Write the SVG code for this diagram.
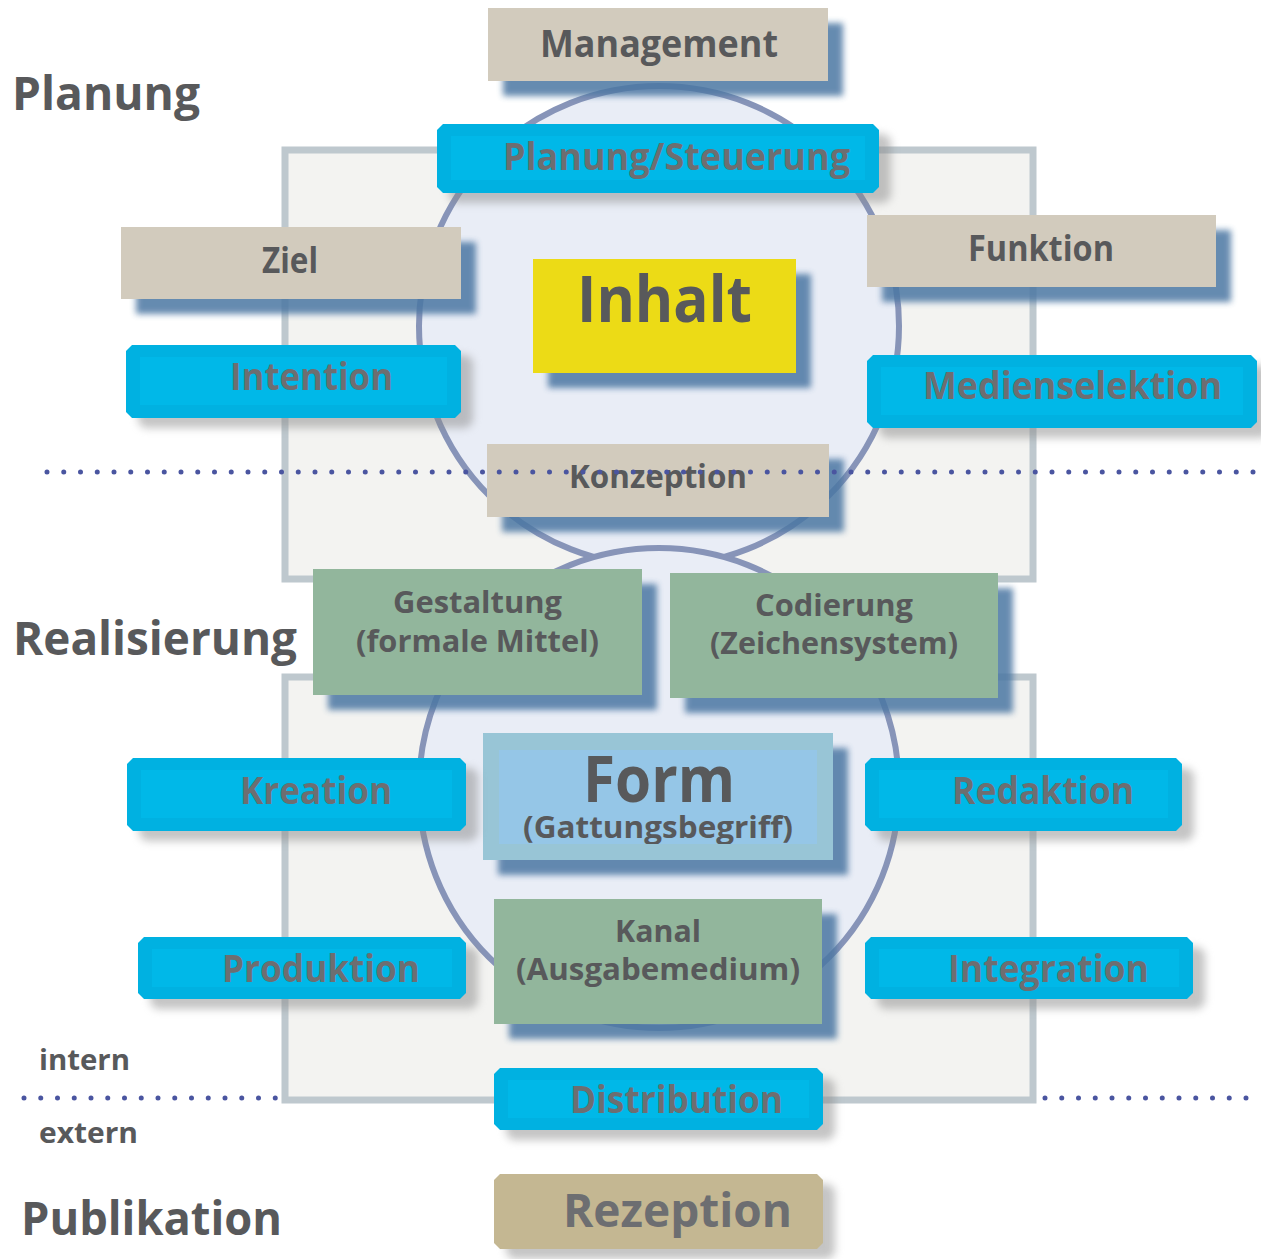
<svg xmlns="http://www.w3.org/2000/svg" width="1261" height="1259" viewBox="0 0 1261 1259">
<style>
text{font-family:"Open Sans","DejaVu Sans",sans-serif;font-weight:700;fill:#58595b}
.bt{fill:#6d6e71}
.bg{fill:#f3f3f1;stroke:#bec8ce;stroke-width:7}
.circ{fill:#e9edf6;stroke:#8794b8;stroke-width:6}
.tan{fill:#d2cbbd}
.grn{fill:#92b69c}
.cyan{fill:#00b1e1}
.cyin{fill:#00b8e8}
.bsh{fill:#4c77a3;opacity:.85}
.gsh{fill:#8a8a8a;opacity:.5}
.dot{stroke:#4a55a0;stroke-width:5;stroke-linecap:round;stroke-dasharray:0 16.75;fill:none}
</style>
<defs>
<filter id="blur" x="-10%" y="-20%" width="120%" height="140%"><feGaussianBlur stdDeviation="3"/></filter>
<filter id="blur2" x="-10%" y="-30%" width="120%" height="160%"><feGaussianBlur stdDeviation="4"/></filter>
<clipPath id="formclip"><rect x="499" y="750" width="318" height="94"/></clipPath>
</defs>
<g id="background">
<rect class="bg" x="285" y="150" width="748" height="429"/>
<rect class="bg" x="285" y="677" width="748" height="423"/>
<circle class="circ" cx="659" cy="326" r="240"/>
<circle class="circ" cx="659" cy="788" r="240"/>
</g>
<g id="labels">
<text x="12" y="110" font-size="47" textLength="188" lengthAdjust="spacingAndGlyphs">Planung</text>
<text x="13" y="655" font-size="47" textLength="284" lengthAdjust="spacingAndGlyphs">Realisierung</text>
<text x="21" y="1235" font-size="47" textLength="261" lengthAdjust="spacingAndGlyphs">Publikation</text>
<text x="39" y="1070" font-size="29" textLength="91" lengthAdjust="spacingAndGlyphs">intern</text>
<text x="39" y="1143" font-size="29" textLength="99" lengthAdjust="spacingAndGlyphs">extern</text>
</g>
<g id="connectors">
<line class="dot" x1="24" y1="1098" x2="276" y2="1098"/>
<line class="dot" x1="1045" y1="1098" x2="1248" y2="1098"/>
</g>
<g id="management">
<rect class="bsh" x="503" y="23" width="340" height="73" filter="url(#blur)"/>
<rect class="tan" x="488" y="8" width="340" height="73"/>
<text x="540" y="57" font-size="38" textLength="238" lengthAdjust="spacingAndGlyphs">Management</text>
</g>
<g id="planung-steuerung">
<path class="gsh" filter="url(#blur2)" transform="translate(12,10)" d="M443,124 H873 L879,130 V187 L873,193 H443 L437,187 V130 Z"/>
<path class="cyan" d="M443,124 H873 L879,130 V187 L873,193 H443 L437,187 V130 Z"/>
<rect class="cyin" x="451" y="136" width="414" height="44"/>
<text class="bt" x="503" y="170" font-size="38" textLength="347" lengthAdjust="spacingAndGlyphs">Planung/Steuerung</text>
</g>
<g id="ziel">
<rect class="bsh" x="136" y="242" width="340" height="72" filter="url(#blur)"/>
<rect class="tan" x="121" y="227" width="340" height="72"/>
<text x="262" y="273" font-size="36" textLength="56" lengthAdjust="spacingAndGlyphs">Ziel</text>
</g>
<g id="funktion">
<rect class="bsh" x="882" y="230" width="349" height="72" filter="url(#blur)"/>
<rect class="tan" x="867" y="215" width="349" height="72"/>
<text x="968" y="261" font-size="36" textLength="146" lengthAdjust="spacingAndGlyphs">Funktion</text>
</g>
<g id="inhalt">
<rect class="bsh" x="548" y="274" width="263" height="114" filter="url(#blur)"/>
<rect fill="#ecdb16" x="533" y="259" width="263" height="114"/>
<text x="577" y="322" font-size="64" textLength="175" lengthAdjust="spacingAndGlyphs">Inhalt</text>
</g>
<g id="intention">
<path class="gsh" filter="url(#blur2)" transform="translate(12,10)" d="M132,345 H455 L461,351 V412 L455,418 H132 L126,412 V351 Z"/>
<path class="cyan" d="M132,345 H455 L461,351 V412 L455,418 H132 L126,412 V351 Z"/>
<rect class="cyin" x="140" y="357" width="307" height="48"/>
<text class="bt" x="230" y="390" font-size="37" textLength="163" lengthAdjust="spacingAndGlyphs">Intention</text>
</g>
<g id="medienselektion">
<path class="gsh" filter="url(#blur2)" transform="translate(12,10)" d="M873,355 H1251 L1257,361 V422 L1251,428 H873 L867,422 V361 Z"/>
<path class="cyan" d="M873,355 H1251 L1257,361 V422 L1251,428 H873 L867,422 V361 Z"/>
<rect class="cyin" x="881" y="367" width="362" height="48"/>
<text class="bt" x="923" y="399" font-size="37" textLength="299" lengthAdjust="spacingAndGlyphs">Medienselektion</text>
</g>
<g id="konzeption">
<rect class="bsh" x="502" y="459" width="342" height="73" filter="url(#blur)"/>
<rect class="tan" x="487" y="444" width="342" height="73"/>
<text x="569" y="488" font-size="32" textLength="178" lengthAdjust="spacingAndGlyphs">Konzeption</text>
</g>
<g id="gestaltung">
<rect class="bsh" x="328" y="584" width="329" height="126" filter="url(#blur)"/>
<rect class="grn" x="313" y="569" width="329" height="126"/>
<text x="393" y="613" font-size="30" textLength="169" lengthAdjust="spacingAndGlyphs">Gestaltung</text>
<text x="356" y="652" font-size="30" textLength="243" lengthAdjust="spacingAndGlyphs">(formale Mittel)</text>
</g>
<g id="codierung">
<rect class="bsh" x="685" y="588" width="328" height="125" filter="url(#blur)"/>
<rect class="grn" x="670" y="573" width="328" height="125"/>
<text x="755" y="616" font-size="30" textLength="158" lengthAdjust="spacingAndGlyphs">Codierung</text>
<text x="710" y="654" font-size="30" textLength="248" lengthAdjust="spacingAndGlyphs">(Zeichensystem)</text>
</g>
<g id="form">
<rect class="bsh" x="498" y="748" width="350" height="127" filter="url(#blur)"/>
<rect fill="#98c5d6" x="483" y="733" width="350" height="127"/>
<rect fill="#95c6e7" x="499" y="750" width="318" height="94"/>
<text x="583" y="802" font-size="64" textLength="152" lengthAdjust="spacingAndGlyphs">Form</text>
<text x="523" y="838" font-size="30" textLength="270" lengthAdjust="spacingAndGlyphs" clip-path="url(#formclip)">(Gattungsbegriff)</text>
</g>
<g id="kreation">
<path class="gsh" filter="url(#blur2)" transform="translate(12,10)" d="M133,758 H460 L466,764 V825 L460,831 H133 L127,825 V764 Z"/>
<path class="cyan" d="M133,758 H460 L466,764 V825 L460,831 H133 L127,825 V764 Z"/>
<rect class="cyin" x="141" y="770" width="311" height="48"/>
<text class="bt" x="240" y="804" font-size="37" textLength="152" lengthAdjust="spacingAndGlyphs">Kreation</text>
</g>
<g id="redaktion">
<path class="gsh" filter="url(#blur2)" transform="translate(12,10)" d="M871,758 H1176 L1182,764 V825 L1176,831 H871 L865,825 V764 Z"/>
<path class="cyan" d="M871,758 H1176 L1182,764 V825 L1176,831 H871 L865,825 V764 Z"/>
<rect class="cyin" x="879" y="770" width="289" height="48"/>
<text class="bt" x="952" y="804" font-size="37" textLength="182" lengthAdjust="spacingAndGlyphs">Redaktion</text>
</g>
<g id="produktion">
<path class="gsh" filter="url(#blur2)" transform="translate(12,10)" d="M144,937 H460 L466,943 V993 L460,999 H144 L138,993 V943 Z"/>
<path class="cyan" d="M144,937 H460 L466,943 V993 L460,999 H144 L138,993 V943 Z"/>
<rect class="cyin" x="152" y="949" width="300" height="38"/>
<text class="bt" x="222" y="982" font-size="37" textLength="198" lengthAdjust="spacingAndGlyphs">Produktion</text>
</g>
<g id="integration">
<path class="gsh" filter="url(#blur2)" transform="translate(12,10)" d="M871,937 H1187 L1193,943 V993 L1187,999 H871 L865,993 V943 Z"/>
<path class="cyan" d="M871,937 H1187 L1193,943 V993 L1187,999 H871 L865,993 V943 Z"/>
<rect class="cyin" x="879" y="949" width="300" height="38"/>
<text class="bt" x="948" y="982" font-size="37" textLength="201" lengthAdjust="spacingAndGlyphs">Integration</text>
</g>
<g id="kanal">
<rect class="bsh" x="509" y="914" width="328" height="125" filter="url(#blur)"/>
<rect class="grn" x="494" y="899" width="328" height="125"/>
<text x="615" y="942" font-size="30" textLength="86" lengthAdjust="spacingAndGlyphs">Kanal</text>
<text x="516" y="980" font-size="30" textLength="284" lengthAdjust="spacingAndGlyphs">(Ausgabemedium)</text>
</g>
<g id="distribution">
<path class="gsh" filter="url(#blur2)" transform="translate(12,10)" d="M500,1068 H817 L823,1074 V1124 L817,1130 H500 L494,1124 V1074 Z"/>
<path class="cyan" d="M500,1068 H817 L823,1074 V1124 L817,1130 H500 L494,1124 V1074 Z"/>
<rect class="cyin" x="508" y="1080" width="301" height="38"/>
<text class="bt" x="570" y="1113" font-size="38" textLength="213" lengthAdjust="spacingAndGlyphs">Distribution</text>
</g>
<g id="rezeption">
<path class="gsh" filter="url(#blur2)" transform="translate(12,10)" d="M500,1174 H817 L823,1180 V1243 L817,1249 H500 L494,1243 V1180 Z"/>
<path fill="#c4b792" d="M500,1174 H817 L823,1180 V1243 L817,1249 H500 L494,1243 V1180 Z"/>
<text class="bt" x="563" y="1227" font-size="46" textLength="229" lengthAdjust="spacingAndGlyphs">Rezeption</text>
</g>
<g id="connectors-top">
<line class="dot" x1="47" y1="472" x2="1255" y2="472"/>
</g>
</svg>
